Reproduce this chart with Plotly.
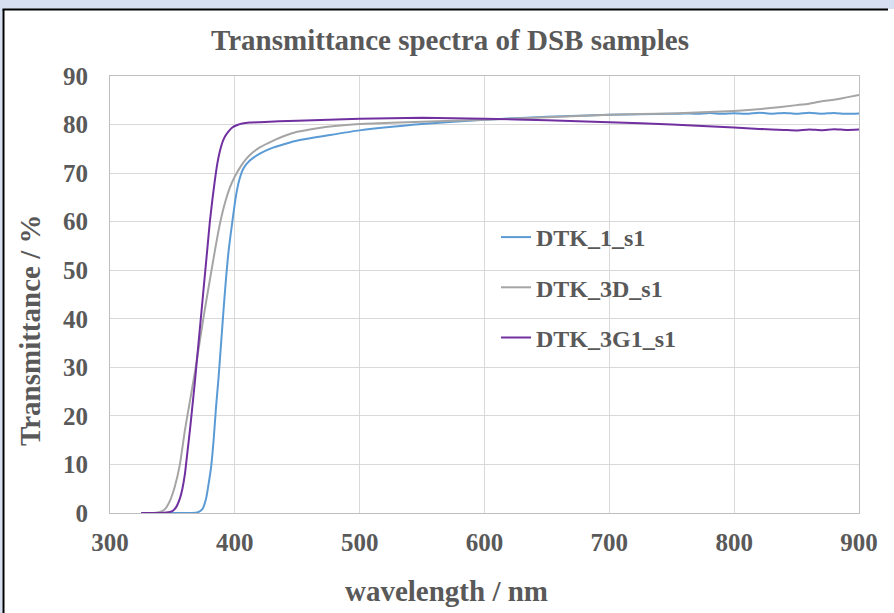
import plotly.graph_objects as go

# ---------------- data ----------------
wl_1 = [325, 340, 355, 365, 370, 374, 377, 379, 381, 383, 385, 387, 389, 391, 393, 395, 398, 401, 404, 407,
        412, 420, 428, 440, 452, 475, 500, 550, 600, 650, 700, 750, 760, 770, 780, 790, 800, 810, 820, 830,
        840, 850, 860, 870, 880, 890, 900]
t_1 = [0, 0, 0, 0, 0.1, 0.8, 3, 6, 9.5, 15, 22, 28, 35, 42, 48.5, 54, 60, 65.5, 69.0, 71.0,
       72.6, 74.0, 75.0, 76.0, 76.8, 77.8, 78.8, 80.1, 81.0, 81.6, 82.0, 82.2, 82.3, 82.2, 82.4, 82.2, 82.35, 82.2, 82.45, 82.25,
       82.4, 82.2, 82.45, 82.25, 82.4, 82.2, 82.3]

wl_3d = [325, 335, 340, 344, 348, 352, 356, 360, 364, 368, 372, 376, 380, 384, 388, 392, 396, 400, 405, 410,
         415, 420, 430, 440, 450, 465, 480, 500, 550, 600, 650, 700, 750, 800, 825, 850, 860, 870, 880, 890, 900]
t_3d = [0, 0, 0.2, 0.8, 2.5, 5.5, 10, 17, 23, 29, 35.5, 42, 48, 54, 59.5, 63.8, 67, 69.3, 71.5, 73.2,
        74.4, 75.3, 76.6, 77.7, 78.5, 79.2, 79.7, 80.1, 80.6, 81.0, 81.5, 82.0, 82.3, 82.8, 83.3, 84.0, 84.3, 84.8, 85.1, 85.6, 86.1]

wl_3g1 = [325, 340, 345, 350, 353, 356, 358, 360, 362, 364, 366, 368, 370, 372, 374, 376, 378, 380, 382, 384,
          386, 388, 390, 392, 395, 398, 402, 406, 412, 420, 450, 500, 550, 600, 650, 700, 750, 800, 820, 840,
          850, 860, 870, 880, 890, 900]
t_3g1 = [0, 0, 0.1, 0.4, 1.2, 3, 5, 8, 12.5, 17, 22, 27, 32.5, 38, 43.5, 49, 54.5, 60, 64.5, 68.5,
         72, 74.5, 76.3, 77.5, 78.6, 79.4, 79.9, 80.2, 80.4, 80.5, 80.8, 81.2, 81.4, 81.2, 80.9, 80.5, 80.0, 79.4, 79.1, 78.9,
         78.8, 79.0, 78.85, 79.05, 78.9, 79.0]

series_names = ["DTK_1_s1", "DTK_3D_s1", "DTK_3G1_s1"]
series_colors = ["#5b9bd5", "#a5a5a5", "#7030a0"]

title_text = "Transmittance spectra of DSB samples"
x_title = "wavelength / nm"
y_title = "Transmittance / %"
x_ticks = [300, 400, 500, 600, 700, 800, 900]
y_ticks = [0, 10, 20, 30, 40, 50, 60, 70, 80, 90]

# ---------------- figure ----------------
FONT = "Liberation Serif, Times New Roman, serif"
TXT = "#595959"

fig = go.Figure()
for i, (x, y) in enumerate([(wl_1, t_1), (wl_3d, t_3d), (wl_3g1, t_3g1)]):
    fig.add_trace(go.Scatter(
        x=x, y=y, mode="lines", name=series_names[i],
        line=dict(color=series_colors[i], width=2, shape="spline", smoothing=0.5),
        legendgroup=f"g{i}",
    ))

# plot area in pixels: x 110..859, y 76..513
L, R, T, B = 110, 859, 76, 513
W, H = 894, 613
pw, ph = R - L, B - T

def px(x):
    return (x - L) / pw

def py(y):
    return (B - y) / ph

shapes = [
    dict(type="rect", xref="paper", yref="paper", x0=px(-5), x1=px(W + 5), y0=py(9), y1=py(-5),
         fillcolor="#d6e0f2", line=dict(width=0), layer="below"),
    dict(type="rect", xref="paper", yref="paper", x0=px(-5), x1=px(2.5), y0=py(H + 5), y1=py(-5),
         fillcolor="#d6e0f2", line=dict(width=0), layer="below"),
    dict(type="line", xref="paper", yref="paper", x0=px(2.5), x1=px(888), y0=py(9.5), y1=py(9.5),
         line=dict(color="black", width=2)),
    dict(type="line", xref="paper", yref="paper", x0=px(3.5), x1=px(3.5), y0=py(9.5), y1=py(620),
         line=dict(color="black", width=2)),
]

annotations = [
    dict(text=x_title, xref="paper", yref="paper", x=px(446), y=py(591), xanchor="center", yanchor="middle",
         showarrow=False, font=dict(family=FONT, size=29, color=TXT, weight="bold")),
    dict(text=y_title, xref="paper", yref="paper", x=px(30), y=py(331), xanchor="center", yanchor="middle",
         textangle=-90, showarrow=False, font=dict(family=FONT, size=29, color=TXT, weight="bold")),
]

fig.update_layout(
    width=W, height=H,
    margin=dict(l=L, r=W - R, t=T, b=H - B),
    paper_bgcolor="white", plot_bgcolor="white",
    title=dict(text=title_text, x=450 / W, xanchor="center", xref="container", y=1 - 40 / H, yanchor="middle",
               font=dict(family=FONT, size=29, color=TXT, weight="bold")),
    xaxis=dict(range=[300, 900], tickvals=x_ticks, showgrid=True, gridcolor="#d9d9d9", gridwidth=1,
               showline=True, linecolor="#bfbfbf", mirror=True, zeroline=False, ticks="",
               ticklabelstandoff=7,
               tickfont=dict(family=FONT, size=25, color=TXT, weight="bold")),
    yaxis=dict(range=[0, 90], tickvals=y_ticks, showgrid=True, gridcolor="#d9d9d9", gridwidth=1,
               showline=True, linecolor="#bfbfbf", mirror=True, zeroline=False, ticks="",
               ticklabelstandoff=16,
               tickfont=dict(family=FONT, size=25, color=TXT, weight="bold")),
    legend=dict(x=px(496), y=py(215), xanchor="left", yanchor="top", bgcolor="rgba(0,0,0,0)",
                font=dict(family=FONT, size=24, color=TXT, weight="bold"),
                traceorder="grouped", tracegroupgap=16, itemwidth=30),
    shapes=shapes,
    annotations=annotations,
    showlegend=True,
)

fig.write_html("out.html")
